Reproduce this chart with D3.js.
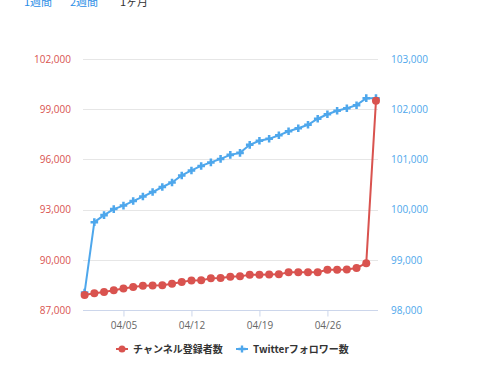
<!DOCTYPE html>
<html><head><meta charset="utf-8">
<script src="https://cdn.jsdelivr.net/npm/d3@7"></script>
<style>
html,body{margin:0;padding:0;background:#fff;}
svg{display:block;font-family:"Open Sans","Noto Sans CJK JP",sans-serif;}
</style></head>
<body><svg id="c" width="480" height="373"></svg>
<script>
const dates = ["04/01","04/02","04/03","04/04","04/05","04/06","04/07","04/08","04/09","04/10",
  "04/11","04/12","04/13","04/14","04/15","04/16","04/17","04/18","04/19","04/20",
  "04/21","04/22","04/23","04/24","04/25","04/26","04/27","04/28","04/29","04/30","05/01"];
const subscribers = [87900,88000,88080,88180,88280,88380,88450,88470,88480,88570,
  88670,88770,88780,88890,88910,88990,89010,89100,89110,89120,
  89130,89250,89250,89260,89260,89400,89410,89420,89510,89800,99500];
const followers = [98350,99750,99890,100010,100080,100170,100260,100350,100450,100540,
  100680,100780,100870,100940,101010,101090,101130,101290,101370,101410,
  101480,101560,101620,101690,101810,101900,101970,102020,102080,102220,102220];
const xTickLabels = ["04/05","04/12","04/19","04/26"];
const leftTicks = [87000,90000,93000,96000,99000,102000];
const rightTicks = [98000,99000,100000,101000,102000,103000];
const seriesNames = ["チャンネル登録者数","Twitterフォロワー数"];
const rangeButtons = ["1週間","2週間","1ヶ月"];

const red = "#d9534f", blue = "#4ea7ec";
const svg = d3.select("#c");
const L = 83, R = 378, T = 59, B = 310;

const parse = s => d3.timeParse("%Y/%m/%d")("2020/" + s);
const dts = dates.map(parse);
const x = d3.scaleTime()
  .domain([d3.timeHour.offset(dts[0], -4), d3.timeHour.offset(dts[dts.length-1], 5)])
  .range([L, R]);
const yL = d3.scaleLinear().domain([87000,102000]).range([B, T]);
const yR = d3.scaleLinear().domain([98000,103000]).range([B, T]);
const fmt = d3.format(",");

// range buttons (partially scrolled off, as in the reference)
const bx = [24, 70, 120];
svg.selectAll("text.btn").data(rangeButtons).join("text")
  .attr("class","btn").attr("x",(d,i)=>bx[i]).attr("y",6)
  .attr("font-size",11).attr("font-family","'Noto Sans CJK JP',sans-serif")
  .attr("fill",(d,i)=> i<2 ? "#2a8de6" : "#333").text(d=>d);

// grid
svg.append("g").selectAll("line").data(leftTicks.slice(1)).join("line")
  .attr("x1",L).attr("x2",R).attr("y1",d=>Math.round(yL(d))+0.5).attr("y2",d=>Math.round(yL(d))+0.5)
  .attr("stroke","#e6e6e6");

// left axis
const gl = svg.append("g").attr("transform",`translate(${L},0)`)
  .call(d3.axisLeft(yL).tickValues(leftTicks).tickFormat(fmt).tickSize(0).tickPadding(12));
gl.select(".domain").remove();
gl.selectAll("text").attr("fill",red).attr("font-size",10).attr("font-family","'Open Sans',sans-serif");

// right axis
const gr = svg.append("g").attr("transform",`translate(${R},0)`)
  .call(d3.axisRight(yR).tickValues(rightTicks).tickFormat(fmt).tickSize(0).tickPadding(13));
gr.select(".domain").remove();
gr.selectAll("text").attr("fill",blue).attr("font-size",10).attr("font-family","'Open Sans',sans-serif");

// x axis
const tickDates = xTickLabels.map(parse);
const gx = svg.append("g").attr("transform",`translate(0,${B+0.5})`)
  .call(d3.axisBottom(x).tickValues(tickDates).tickFormat(d3.timeFormat("%m/%d")).tickSize(6).tickPadding(5));
gx.select(".domain").attr("stroke","#ccd6eb").attr("d",`M${L},0H${R}`);
gx.selectAll(".tick line").attr("stroke","#ccd6eb");
gx.selectAll("text").attr("fill","#666").attr("font-size",10).attr("font-family","'Open Sans',sans-serif");

// series
const lineL = d3.line().x((d,i)=>x(dts[i])).y(d=>yL(d));
const lineR = d3.line().x((d,i)=>x(dts[i])).y(d=>yR(d));
svg.append("path").datum(followers).attr("d",lineR).attr("fill","none").attr("stroke",blue).attr("stroke-width",2);
svg.append("g").selectAll("path").data(followers).join("path")
  .attr("transform",(d,i)=>`translate(${x(dts[i])},${yR(d)})`)
  .attr("d",d3.symbol(d3.symbolCross,32)).attr("fill",blue);
svg.append("path").datum(subscribers).attr("d",lineL).attr("fill","none").attr("stroke",red).attr("stroke-width",2);
svg.append("g").selectAll("circle").data(subscribers).join("circle")
  .attr("cx",(d,i)=>x(dts[i])).attr("cy",d=>yL(d)).attr("r",4).attr("fill",red);

// legend
const lg = [{name:seriesNames[0],c:red,sym:"circle",x:116},{name:seriesNames[1],c:blue,sym:"cross",x:236}];
const ly = 349;
lg.forEach(o=>{
  const g = svg.append("g");
  g.append("line").attr("x1",o.x).attr("x2",o.x+12).attr("y1",ly).attr("y2",ly).attr("stroke",o.c).attr("stroke-width",2);
  if (o.sym==="circle") g.append("circle").attr("cx",o.x+6).attr("cy",ly).attr("r",3.5).attr("fill",o.c);
  else g.append("path").attr("transform",`translate(${o.x+6},${ly})`).attr("d",d3.symbol(d3.symbolCross,28)).attr("fill",o.c);
  g.append("text").attr("x",o.x+17).attr("y",ly+4).attr("font-size",10).attr("font-weight","bold")
   .attr("font-family","'Noto Sans CJK JP',sans-serif").attr("fill","#333").text(o.name);
});
</script></body></html>
